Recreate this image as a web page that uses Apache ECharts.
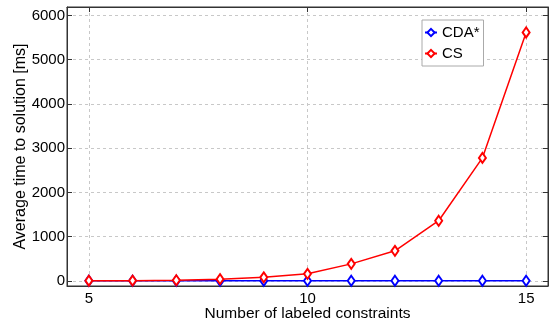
<!DOCTYPE html>
<html>
<head>
<meta charset="utf-8">
<script src="https://cdn.jsdelivr.net/npm/echarts@6/dist/echarts.min.js"></script>
<style>
  html, body { margin: 0; padding: 0; background: #fff; }
  #chart { width: 551px; height: 325px; }
</style>
</head>
<body>
<div id="chart"></div>
<script>
// Number of labeled constraints
const constraints = [5, 6, 7, 8, 9, 10, 11, 12, 13, 14, 15];
// Average time to solution [ms]
const cdaStar = [3, 3, 3, 3, 3, 3, 3, 3, 3, 3, 3];
const cs = [5, 6, 15, 40, 80, 160, 385, 680, 1360, 2780, 5615];
const xTicks = [5, 10, 15];
const yTicks = [0, 1000, 2000, 3000, 4000, 5000, 6000];

const font = 'Liberation Sans, Arial, Helvetica, sans-serif';
const gridLine = { show: true, lineStyle: { color: '#c8c8c8', type: [3, 3], width: 1 } };
const plain = v => String(v);

function pairs(ys) { return constraints.map((x, i) => [x, ys[i]]); }

const chart = echarts.init(document.getElementById('chart'), null, { renderer: 'canvas' });
chart.setOption({
  animation: false,
  backgroundColor: '#fff',
  textStyle: { fontFamily: font },
  grid: {
    left: 67, right: 3, top: 7, bottom: 39,
    containLabel: false, outerBoundsMode: 'none',
    show: true, borderColor: '#333', borderWidth: 1
  },
  legend: {
    left: 422, top: 20,
    orient: 'vertical',
    backgroundColor: '#fff',
    borderColor: '#aaa', borderWidth: 1,
    padding: [5, 4, 5, 2],
    itemGap: 6,
    itemWidth: 12, itemHeight: 9,
    textStyle: { fontSize: 15, color: '#000', fontFamily: font },
    data: ['CDA*', 'CS']
  },
  xAxis: [{
    type: 'value', min: 4.5, max: 15.5,
    name: 'Number of labeled constraints', nameLocation: 'middle', nameGap: 20,
    nameMoveOverlap: false,
    nameTextStyle: { fontSize: 15.5, color: '#000' },
    axisLine: { show: true, onZero: false, lineStyle: { color: '#333' } },
    axisTick: { show: true, inside: true, length: 5, customValues: xTicks, lineStyle: { color: '#333' } },
    axisLabel: { customValues: xTicks, formatter: plain, fontSize: 15, color: '#000', margin: 5 },
    splitLine: gridLine
  }, {
    type: 'value', min: 4.5, max: 15.5, position: 'top',
    axisLine: { show: true, onZero: false, lineStyle: { color: '#333' } },
    axisTick: { show: true, inside: true, length: 5, customValues: xTicks, lineStyle: { color: '#333' } },
    axisLabel: { show: false },
    splitLine: { show: false }
  }],
  yAxis: [{
    type: 'value', min: -115, max: 6190,
    name: 'Average time to solution [ms]', nameLocation: 'middle', nameGap: 38,
    nameMoveOverlap: false,
    nameTextStyle: { fontSize: 16, color: '#000' },
    axisLine: { show: true, onZero: false, lineStyle: { color: '#333' } },
    axisTick: { show: true, inside: true, length: 5, customValues: yTicks, lineStyle: { color: '#333' } },
    axisLabel: { customValues: yTicks, formatter: plain, fontSize: 15, color: '#000', margin: 2 },
    splitLine: gridLine
  }, {
    type: 'value', min: -115, max: 6190, position: 'right',
    axisLine: { show: true, onZero: false, lineStyle: { color: '#333' } },
    axisTick: { show: true, inside: true, length: 5, customValues: yTicks, lineStyle: { color: '#333' } },
    axisLabel: { show: false },
    splitLine: { show: false }
  }],
  series: [{
    name: 'CS', type: 'line', data: pairs(cs),
    symbol: 'emptyDiamond', symbolSize: [7, 10],
    color: '#ff0000',
    lineStyle: { width: 1.5, color: '#ff0000' },
    itemStyle: { color: '#ff0000', borderWidth: 1.5 },
    z: 3
  }, {
    name: 'CDA*', type: 'line', data: pairs(cdaStar),
    symbol: 'emptyDiamond', symbolSize: [7, 10],
    color: '#0000ff',
    lineStyle: { width: 1.5, color: '#0000ff' },
    itemStyle: { color: '#0000ff', borderWidth: 1.5 },
    z: 2
  }]
});
</script>
</body>
</html>
